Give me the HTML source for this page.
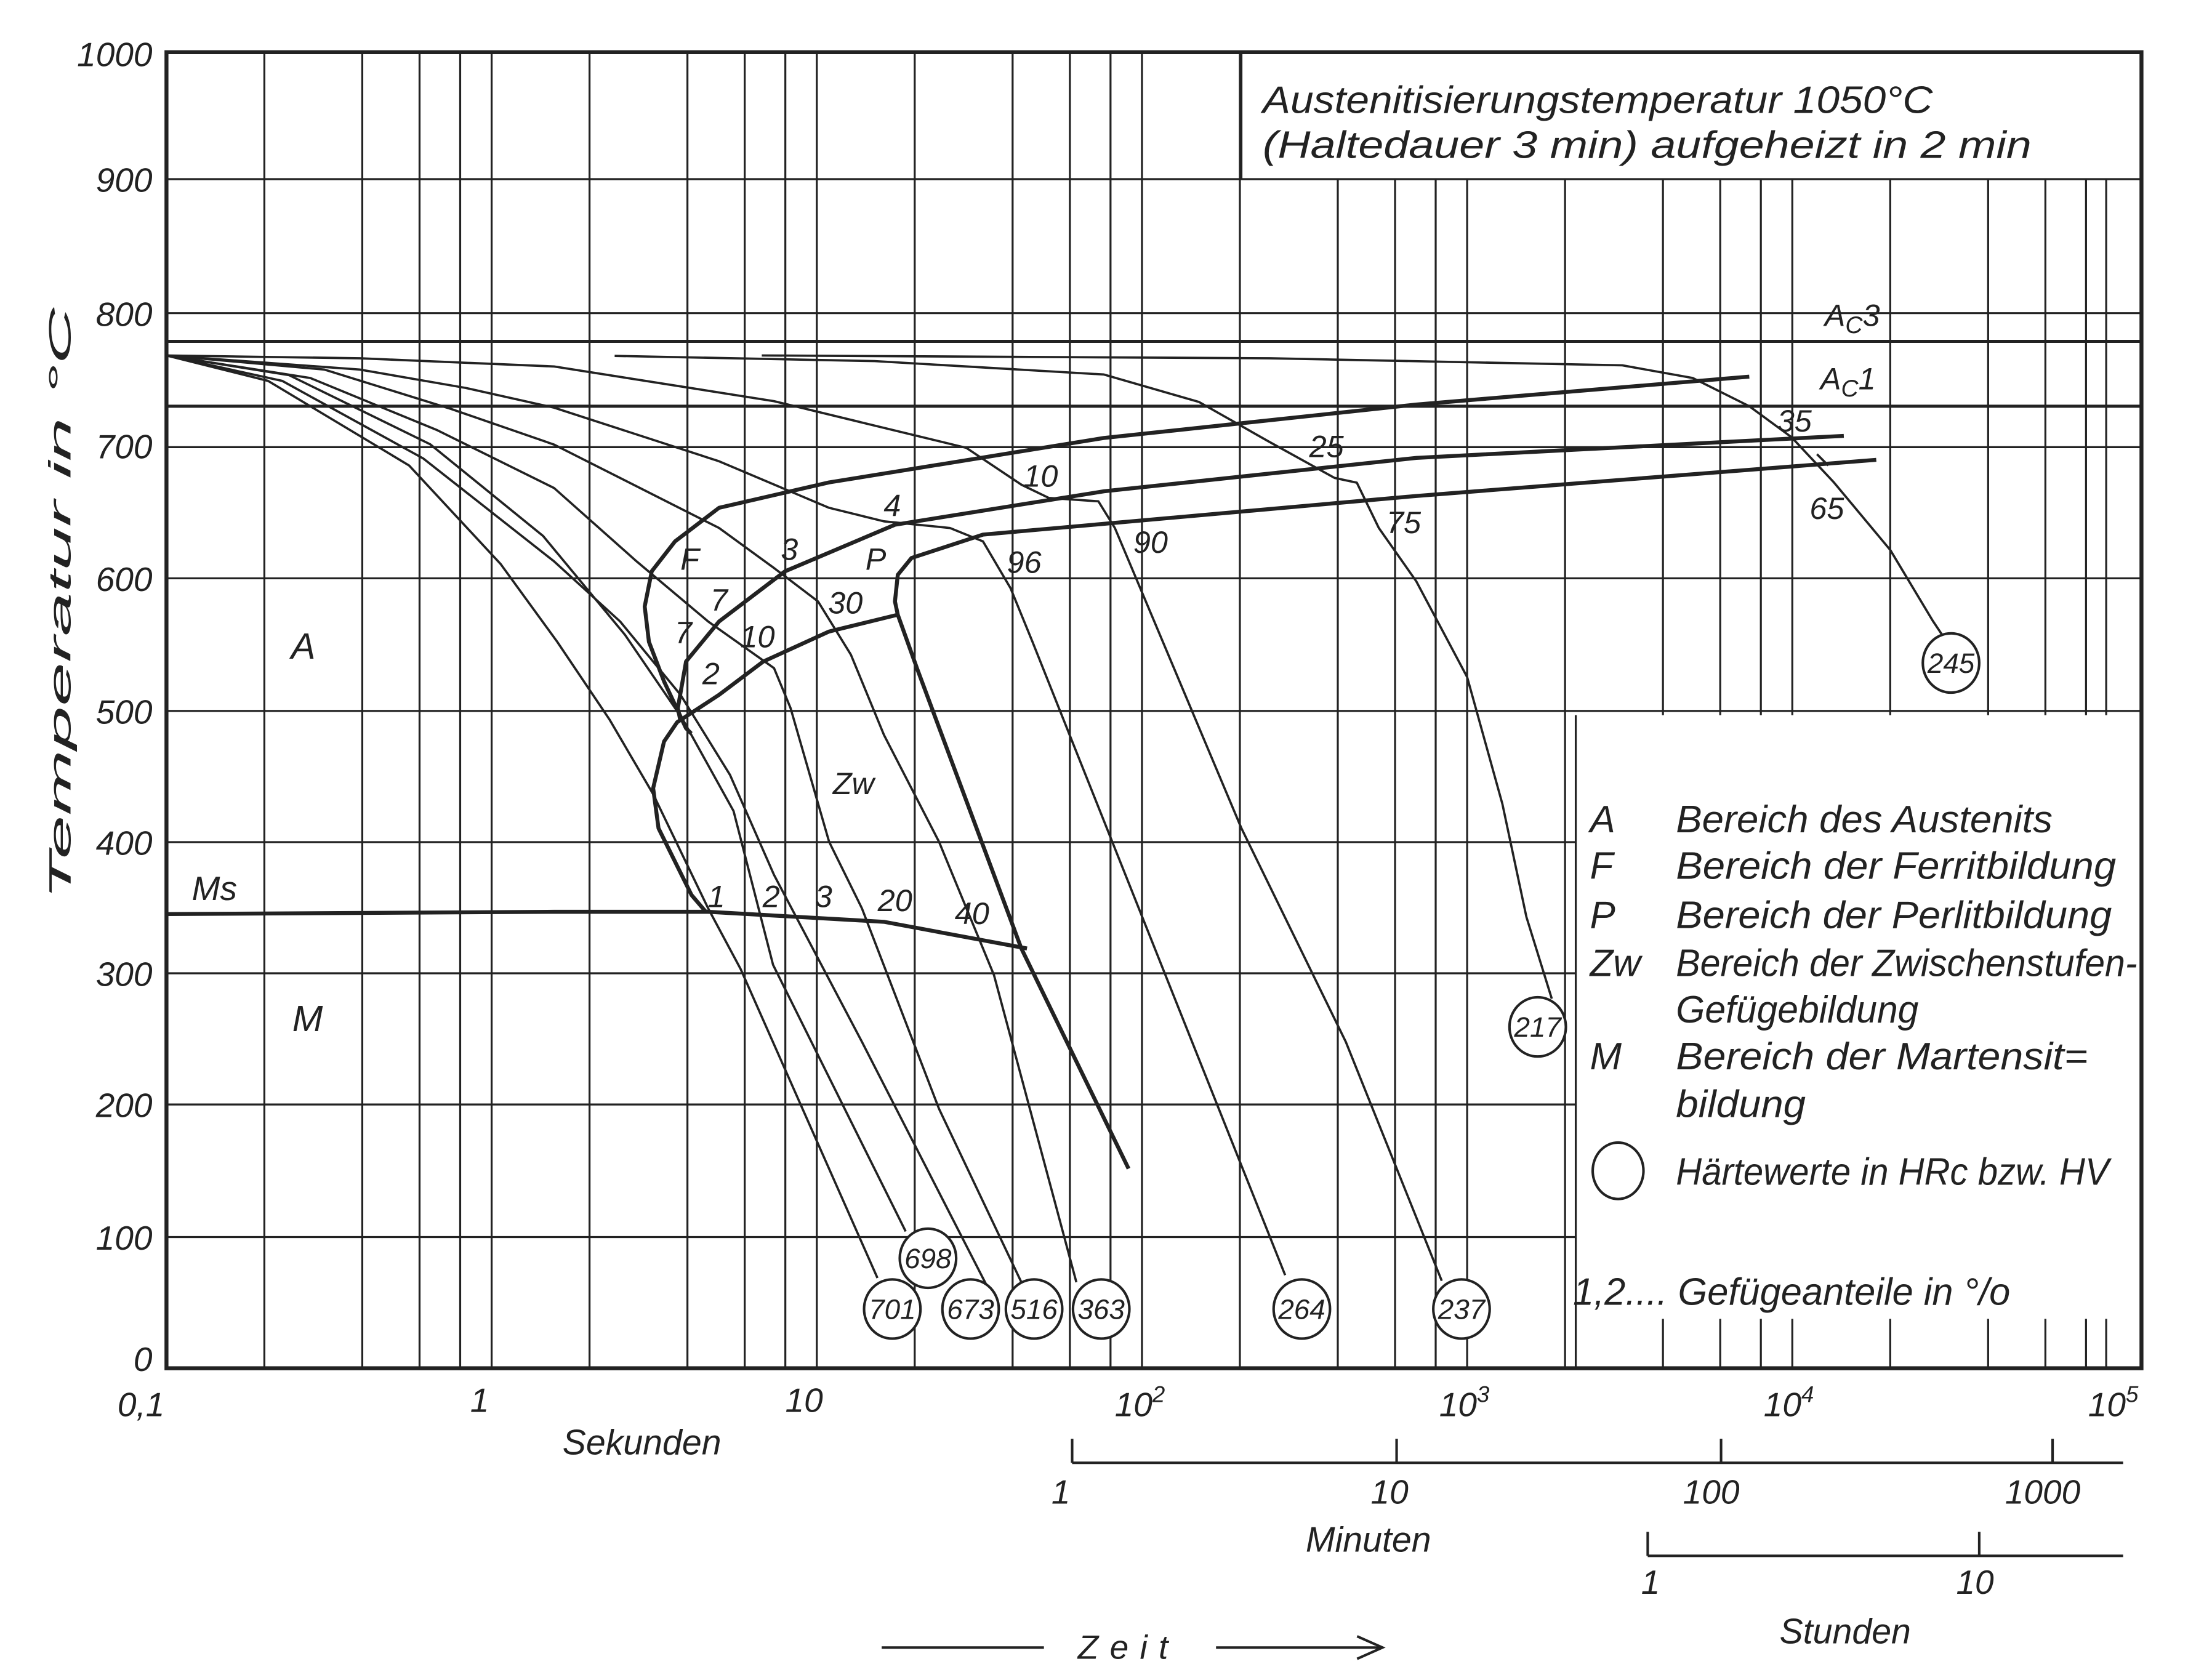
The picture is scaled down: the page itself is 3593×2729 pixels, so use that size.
<!DOCTYPE html>
<html><head><meta charset="utf-8"><style>
html,body{margin:0;padding:0;background:#fff}
svg{display:block}
text{font-family:"Liberation Sans",sans-serif;font-style:italic;fill:#222}
</style></head><body>
<svg width="3593" height="2729" viewBox="0 0 1568 1191" preserveAspectRatio="none" xmlns="http://www.w3.org/2000/svg">
<rect width="1568" height="1191" fill="#fff"/>
<g stroke="#222" stroke-width="1.4" fill="none">
<path d="M187.4,37V970M256.8,37V970M297.4,37V970M326.2,37V970M348.5,37V970M417.9,37V970M487.3,37V970M527.9,37V970M556.7,37V970M579,37V970M648.4,37V970M717.8,37V970M758.4,37V970M787.2,37V970M809.5,37V970M878.9,37V970"/>
<path d="M948.3,127V970M988.9,127V970M1017.7,127V970M1040,127V970M1109.4,127V970"/>
<path d="M1178.8,127V507M1219.4,127V507M1248.2,127V507M1270.5,127V507M1339.9,127V507M1409.3,127V507M1449.9,127V507M1478.7,127V507M1493,127V507"/>
<path d="M1178.8,935V970M1219.4,935V970M1248.2,935V970M1270.5,935V970M1339.9,935V970M1409.3,935V970M1449.9,935V970M1478.7,935V970M1493,935V970"/>
<path d="M880,37V127M1117,507V970"/>
<path d="M118,127H1518M118,222H1518M118,317H1518M118,410H1518M118,504H1518M118,597H1117M118,690H1117M118,783H1117M118,877H1117"/>
</g>
<path d="M118,242H1518M118,288H1518" stroke="#222" stroke-width="2.2"/>
<rect x="118" y="37" width="1400" height="933" fill="none" stroke="#222" stroke-width="2.8"/>

<g stroke="#222" stroke-width="1.6" fill="none" stroke-linejoin="round">
<polyline points="118,252 190,270 290,330 355,400 395,455 432,510 463,563 502,644 525,687 622,906"/>
<polyline points="118,252 205,266 305,315 385,380 443,450 484,510 520,575 548,684 642,873"/>
<polyline points="118,252 200,270 300,325 392.8,398 439.6,440.6 482.4,492.6 517.5,549.4 548.7,620.3 611,738.6 700.6,913.6"/>
<polyline points="118,252 220,268 310,305 392.8,346 451.3,398 502,440.6 548.7,473.7 560.4,502 587.7,596.7 611,644 665.6,786 724,909"/>
<polyline points="118,252 230,262 320,290 392.8,315.2 509.7,374.3 548.7,402.7 579.9,426.4 603.2,464.2 626.6,521 665.6,596.7 704.6,691.3 763,909"/>
<polyline points="118,252 255,262 330,275 392.8,289 509.7,327 587.7,360 626.6,369.6 673.4,374.3 696.8,383.8 716.3,416.9 731.8,454.8 911,904"/>
<polyline points="118,252 255,254 392.8,259.8 548.7,284.4 685,317.5 724,343.6 743.5,353 778.6,355.4 790.3,374.3 880,587.2 954,738.6 1022,908"/>
<polyline points="435.7,252.3 620,256 782.5,265.5 850,285 899,312.8 946,338.8 961.8,342.2 977.4,374.3 1004,412.2 1040,480 1065,570 1082,650 1100,708"/>
<polyline points="540,252 900,254 1150,259 1200,268 1240,288 1270,310 1300,342 1340,390 1370,440 1380,455"/>
<path d="M1288,322L1296,330"/>
</g>

<g stroke="#222" stroke-width="2.8" fill="none" stroke-linejoin="round">
<polyline points="1240,267 1003.8,286.8 782.5,310.5 587.7,342 509.7,360 478.5,383.8 462,405 457,430 460,455 470.7,483 486.3,516.3 490,520"/>
<polyline points="1307,309 1004,324.6 782.5,348.3 634.4,372 556.5,405 509.7,440.6 486.3,469 480.5,502 482.4,511.5"/>
<polyline points="1330,326 1004,351.6 696.8,379 646.1,395.6 636.4,407.5 634.4,426.4 636.4,435.8 650,473.7 724,672.4 800,828.5"/>
<polyline points="636.4,435.8 587.7,447.7 541,469 509.7,492.6 480,512 470.7,525.7 463,558.8 466.8,587.2 490.2,634.5 500,646"/>
<polyline points="118,648 392.8,646.4 502,646.4 626.6,653.5 728,672.4"/>
</g>

<g stroke="#222" stroke-width="1.8" fill="#fff">
<ellipse cx="632.5" cy="928" rx="20" ry="21"/>
<ellipse cx="657.8" cy="892" rx="20" ry="21"/>
<ellipse cx="688" cy="928" rx="20" ry="21"/>
<ellipse cx="733" cy="928" rx="20" ry="21"/>
<ellipse cx="780.6" cy="928" rx="20" ry="21"/>
<ellipse cx="922.8" cy="928" rx="20" ry="21"/>
<ellipse cx="1036" cy="928" rx="20" ry="21"/>
<ellipse cx="1090" cy="728" rx="20" ry="21"/>
<ellipse cx="1383" cy="470" rx="20" ry="21"/>
<ellipse cx="1147" cy="830" rx="18" ry="20"/>
</g>
<g font-size="20" text-anchor="middle">
<text x="632.5" y="935">701</text><text x="657.8" y="899">698</text>
<text x="688" y="935">673</text><text x="733" y="935">516</text>
<text x="780.6" y="935">363</text><text x="922.8" y="935">264</text>
<text x="1036" y="935">237</text><text x="1090" y="735">217</text>
<text x="1383" y="477">245</text>
</g>

<g font-size="22" text-anchor="middle">
<text x="489" y="404">F</text><text x="559.6" y="397">3</text><text x="632.5" y="366">4</text>
<text x="620.8" y="404">P</text><text x="737.7" y="345">10</text><text x="940.3" y="324">25</text>
<text x="995" y="378">75</text><text x="815.6" y="392">90</text><text x="726" y="406">96</text>
<text x="599.3" y="435">30</text><text x="509.7" y="433">7</text><text x="484.4" y="456">7</text>
<text x="537" y="459">10</text><text x="504" y="485">2</text><text x="605" y="563">Zw</text>
<text x="507.8" y="643">1</text><text x="546.7" y="643">2</text><text x="583.8" y="643">3</text>
<text x="634.4" y="646">20</text><text x="689" y="655">40</text>
<text x="1272" y="306">35</text><text x="1295" y="368">65</text>
<text x="1313" y="231">A<tspan font-size="17" dy="5">C</tspan><tspan dy="-5">3</tspan></text>
<text x="1310" y="276">A<tspan font-size="17" dy="5">C</tspan><tspan dy="-5">1</tspan></text>
<text x="215" y="467" font-size="26">A</text>
<text x="218" y="731" font-size="26">M</text>
<text x="152" y="638" font-size="24">Ms</text>
</g>

<g font-size="24" text-anchor="end">
<text x="108" y="47">1000</text><text x="108" y="136">900</text><text x="108" y="231">800</text>
<text x="108" y="325">700</text><text x="108" y="419">600</text><text x="108" y="513">500</text>
<text x="108" y="606">400</text><text x="108" y="699">300</text><text x="108" y="792">200</text>
<text x="108" y="886">100</text><text x="108" y="972">0</text>
</g>
<text transform="translate(50,428) rotate(-90)" font-size="22" text-anchor="middle" textLength="420" lengthAdjust="spacingAndGlyphs">Temperatur in °C</text>

<g font-size="24" text-anchor="middle">
<text x="100" y="1004">0,1</text><text x="340" y="1001">1</text><text x="570" y="1001">10</text>
<text x="808" y="1004">10<tspan font-size="16" dy="-10">2</tspan></text>
<text x="1038" y="1004">10<tspan font-size="16" dy="-10">3</tspan></text>
<text x="1268" y="1004">10<tspan font-size="16" dy="-10">4</tspan></text>
<text x="1498" y="1004">10<tspan font-size="16" dy="-10">5</tspan></text>
<text x="455" y="1031" font-size="25">Sekunden</text>
<text x="752" y="1066">1</text><text x="985" y="1066">10</text><text x="1213" y="1066">100</text><text x="1448" y="1066">1000</text>
<text x="970" y="1100" font-size="25">Minuten</text>
<text x="1170" y="1130">1</text><text x="1400" y="1130">10</text>
<text x="1308" y="1165" font-size="25">Stunden</text>
<text x="800" y="1176" font-size="24" letter-spacing="8">Zeit</text>
</g>
<g stroke="#222" stroke-width="1.8" fill="none">
<path d="M760,1037H1505M760,1020V1037M990,1020V1037M1220,1020V1037M1455,1020V1037"/>
<path d="M1168,1103H1505M1168,1086V1103M1403,1086V1103"/>
<path d="M625,1168H740M862,1168H978M962,1160L980,1168L962,1176"/>
</g>

<g font-size="27">
<text x="895" y="80" textLength="475" lengthAdjust="spacingAndGlyphs">Austenitisierungstemperatur 1050°C</text>
<text x="895" y="112" textLength="545" lengthAdjust="spacingAndGlyphs">(Haltedauer 3 min) aufgeheizt in 2 min</text>
</g>

<g font-size="27">
<text x="1127" y="590">A</text><text x="1188" y="590" textLength="267" lengthAdjust="spacingAndGlyphs">Bereich des Austenits</text>
<text x="1127" y="623">F</text><text x="1188" y="623" textLength="312" lengthAdjust="spacingAndGlyphs">Bereich der Ferritbildung</text>
<text x="1127" y="658">P</text><text x="1188" y="658" textLength="309" lengthAdjust="spacingAndGlyphs">Bereich der Perlitbildung</text>
<text x="1127" y="692">Zw</text><text x="1188" y="692" textLength="327" lengthAdjust="spacingAndGlyphs">Bereich der Zwischenstufen-</text>
<text x="1188" y="725" textLength="172" lengthAdjust="spacingAndGlyphs">Gefügebildung</text>
<text x="1127" y="758">M</text><text x="1188" y="758" textLength="292" lengthAdjust="spacingAndGlyphs">Bereich der Martensit=</text>
<text x="1188" y="792" textLength="92" lengthAdjust="spacingAndGlyphs">bildung</text>
<text x="1188" y="840" textLength="307" lengthAdjust="spacingAndGlyphs">Härtewerte in HRc bzw. HV</text>
<text x="1115" y="925" textLength="310" lengthAdjust="spacingAndGlyphs">1,2.... Gefügeanteile in °/o</text>
</g>
</svg>
</body></html>
